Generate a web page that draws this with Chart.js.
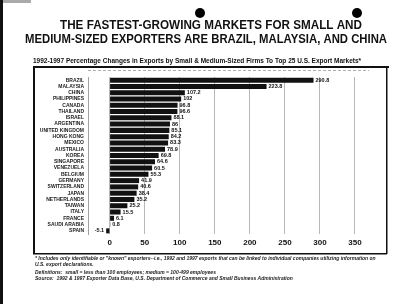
<!DOCTYPE html>
<html>
<head>
<meta charset="utf-8">
<script src="https://cdn.jsdelivr.net/npm/chart.js@4.4.1/dist/chart.umd.min.js"></script>
<style>
  html, body { margin: 0; padding: 0; background: #fff; }
  #wrap { width: 400px; height: 304px; position: relative; }
</style>
</head>
<body>
<div id="wrap"><canvas id="chart"></canvas></div>
<script>
// data
const countries = [
  'BRAZIL', 'MALAYSIA', 'CHINA', 'PHILIPPINES', 'CANADA', 'THAILAND', 'ISRAEL',
  'ARGENTINA', 'UNITED KINGDOM', 'HONG KONG', 'MEXICO', 'AUSTRALIA', 'KOREA',
  'SINGAPORE', 'VENEZUELA', 'BELGIUM', 'GERMANY', 'SWITZERLAND', 'JAPAN',
  'NETHERLANDS', 'TAIWAN', 'ITALY', 'FRANCE', 'SAUDI ARABIA', 'SPAIN'
]
const pctChange = [
  290.8, 223.8, 107.2, 102, 96.8, 96.6, 88.1, 86, 85.1, 84.2, 83.3, 78.9, 69.8,
  64.6, 60.5, 55.3, 41.9, 40.6, 38.4, 35.2, 25.2, 15.5, 6.1, 0.8, -5.1
]
const xTicks = [0, 50, 100, 150, 200, 250, 300, 350]

const titleLines = [
  'THE FASTEST-GROWING MARKETS FOR SMALL AND',
  'MEDIUM-SIZED EXPORTERS ARE BRAZIL, MALAYSIA, AND CHINA'
]
const subtitle = '1992-1997 Percentage Changes in Exports by Small & Medium-Sized Firms To Top 25 U.S. Export Markets*'
const notes = [
  '* Includes only identifiable or "known" exporters--i.e., 1992 and 1997 exports that can be linked to individual companies utilizing information on',
  'U.S. export declarations.',
  'Definitions:  small = less than 100 employees; medium = 100-499 employees',
  'Source:  1992 & 1997 Exporter Data Base, U.S. Department of Commerce and Small Business Administration'
]

const FONT = '"Liberation Sans", Arial, sans-serif'

// page decorations, titles, frame and notes
const pagePlugin = {
  id: 'page',
  beforeDraw(chart) {
    const ctx = chart.ctx
    ctx.save()
    ctx.fillStyle = '#fff'
    ctx.fillRect(0, 0, chart.width, chart.height)
    ctx.restore()
  },
  afterDraw(chart) {
    const ctx = chart.ctx
    const area = chart.chartArea
    ctx.save()
    // scan edge and punch holes
    ctx.fillStyle = '#111'
    ctx.fillRect(0, 0, 3, chart.height)
    ctx.fillStyle = '#aaa'
    ctx.fillRect(3, 0, 28, 3)
    ctx.fillStyle = '#000'
    ctx.beginPath(); ctx.arc(200, 13, 5, 0, Math.PI * 2); ctx.fill()
    ctx.beginPath(); ctx.arc(357, 13, 5, 0, Math.PI * 2); ctx.fill()

    // title
    ctx.fillStyle = '#111'
    ctx.textAlign = 'left'
    ctx.textBaseline = 'middle'
    ctx.font = 'bold 13px ' + FONT
    ctx.fillText(titleLines[0], 60, 25, 302)
    ctx.fillText(titleLines[1], 25, 39, 362)

    // subtitle and its rule
    ctx.font = 'bold 6.5px ' + FONT
    ctx.fillText(subtitle, 33, 61, 342)
    ctx.fillRect(33, 66, 356, 2)

    // frame
    ctx.fillRect(33, 66, 2, 188)
    ctx.fillRect(33, 253, 354, 1.5)
    ctx.fillRect(386, 66, 1.5, 188)

    // dashed top of plot area
    ctx.strokeStyle = '#999'
    ctx.lineWidth = 0.8
    ctx.setLineDash([3, 2])
    ctx.beginPath()
    ctx.moveTo(area.left, area.top - 6.5)
    ctx.lineTo(area.right, area.top - 6.5)
    ctx.stroke()
    ctx.setLineDash([])

    // notes
    ctx.fillStyle = '#222'
    ctx.font = 'italic bold 5px ' + FONT
    ctx.fillText(notes[0], 35, 259, 342)
    ctx.fillText(notes[1], 35, 265, 60)
    ctx.fillText(notes[2], 35, 273, 183)
    ctx.fillText(notes[3], 35, 279, 260)
    ctx.restore()
  }
}

// value labels at the end of each bar
const valueLabels = {
  id: 'valueLabels',
  afterDatasetsDraw(chart) {
    const ctx = chart.ctx
    const meta = chart.getDatasetMeta(0)
    ctx.save()
    ctx.font = 'bold 5.5px ' + FONT
    ctx.fillStyle = '#111'
    ctx.textBaseline = 'middle'
    meta.data.forEach((bar, i) => {
      const v = pctChange[i]
      if (v < 0) {
        ctx.textAlign = 'right'
        ctx.fillText(String(v), bar.x - 2, bar.y)
      } else {
        ctx.textAlign = 'left'
        ctx.fillText(String(v), bar.x + 2, bar.y)
      }
    })
    ctx.restore()
  }
}

new Chart(document.getElementById('chart'), {
  type: 'bar',
  data: {
    labels: countries,
    datasets: [{
      data: pctChange,
      backgroundColor: '#111',
      borderWidth: 0,
      barPercentage: 0.8,
      categoryPercentage: 1
    }]
  },
  options: {
    indexAxis: 'y',
    responsive: true,
    maintainAspectRatio: false,
    animation: false,
    layout: { padding: { top: 77, left: 33, right: 31, bottom: 54 } },
    plugins: {
      legend: { display: false },
      tooltip: { enabled: false }
    },
    scales: {
      x: {
        min: -31,
        max: 370,
        afterBuildTicks: (scale) => {
          scale.ticks = xTicks.map((v) => ({ value: v }))
        },
        afterFit: (scale) => { scale.height = 16 },
        grid: { color: '#999', lineWidth: 0.7, drawTicks: false },
        border: { display: false },
        ticks: {
          color: '#111',
          padding: 4,
          font: { family: FONT, size: 8, weight: 'bold' }
        }
      },
      y: {
        afterFit: (scale) => { scale.width = 55 },
        grid: { display: false, drawTicks: false },
        border: { display: true, color: '#888', width: 0.8 },
        ticks: {
          color: '#222',
          padding: 4,
          autoSkip: false,
          font: { family: FONT, size: 5, weight: 'bold' }
        }
      }
    }
  },
  plugins: [pagePlugin, valueLabels]
})
</script>
</body>
</html>
